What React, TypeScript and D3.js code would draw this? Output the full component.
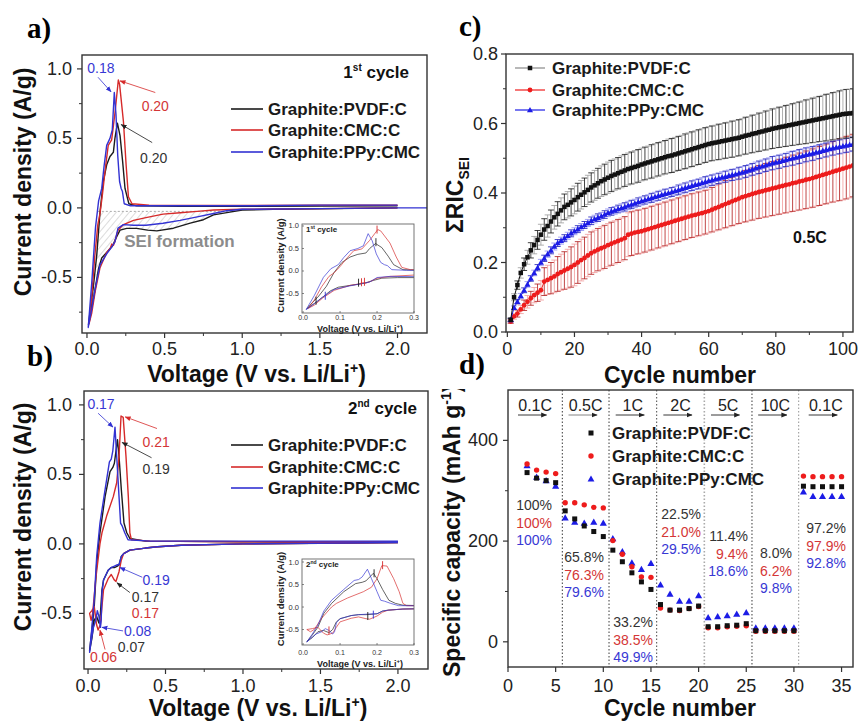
import React from 'react';
import * as d3 from 'd3';

type Pt = [number, number];
type Pt3 = [number, number, number];

const SANS = "'Liberation Sans', Arial, Helvetica, sans-serif";
const SERIF = "'Liberation Serif', 'Times New Roman', serif";

// ---------- Panel a/b : cyclic voltammetry ----------
const CV_NAMES = ['Graphite:PVDF:C', 'Graphite:CMC:C', 'Graphite:PPy:CMC'];
const CV_COLORS = ['#1c1c1c', '#d62a2a', '#3232d2'];

const CV1_PVDF: Pt[] = [
  [2.0, 0.0], [1.6, -0.005], [1.2, -0.01], [1.0, -0.015], [0.92, -0.03], [0.815, -0.05], [0.75, -0.085],
  [0.665, -0.11], [0.557, -0.146], [0.45, -0.165], [0.39, -0.16], [0.32, -0.147], [0.256, -0.147],
  [0.213, -0.16], [0.19, -0.21], [0.17, -0.26], [0.16, -0.28], [0.127, -0.32], [0.095, -0.36],
  [0.074, -0.44], [0.053, -0.58], [0.039, -0.67], [0.02, -0.78], [0.01, -0.84],
  [0.025, -0.7], [0.04, -0.58], [0.063, -0.34], [0.084, -0.03], [0.105, 0.19], [0.127, 0.31],
  [0.148, 0.37], [0.17, 0.4], [0.18, 0.5], [0.196, 0.61], [0.213, 0.52], [0.23, 0.33], [0.245, 0.14],
  [0.27, 0.03], [0.32, 0.015], [0.6, 0.012], [1.0, 0.012], [1.5, 0.013], [2.0, 0.015],
];
const CV1_CMC: Pt[] = [
  [2.0, 0.0], [1.5, -0.005], [1.0, -0.01], [0.815, -0.015], [0.71, -0.025], [0.6, -0.035], [0.49, -0.045],
  [0.38, -0.07], [0.3, -0.09], [0.235, -0.12], [0.2, -0.16], [0.18, -0.24], [0.17, -0.27], [0.16, -0.26],
  [0.15, -0.29], [0.127, -0.32], [0.084, -0.43], [0.053, -0.6], [0.03, -0.76], [0.014, -0.83],
  [0.03, -0.65], [0.05, -0.35], [0.07, -0.12], [0.084, -0.04], [0.1, 0.1], [0.12, 0.3], [0.137, 0.45],
  [0.159, 0.49], [0.18, 0.68], [0.202, 0.92], [0.21, 0.89], [0.235, 0.62], [0.252, 0.31], [0.267, 0.08],
  [0.29, 0.03], [0.4, 0.02], [1.0, 0.018], [1.5, 0.02], [2.0, 0.02],
];
const CV1_PPY: Pt[] = [
  [2.19, 0.0], [2.0, 0.0], [1.5, -0.005], [1.0, -0.01], [0.9, -0.02], [0.815, -0.04], [0.71, -0.065],
  [0.6, -0.09], [0.49, -0.11], [0.38, -0.125], [0.3, -0.125], [0.235, -0.12], [0.2, -0.145], [0.18, -0.245],
  [0.16, -0.28], [0.127, -0.33], [0.084, -0.41], [0.053, -0.58], [0.03, -0.73], [0.008, -0.86],
  [0.03, -0.55], [0.055, -0.14], [0.075, 0.05], [0.095, 0.14], [0.11, 0.3], [0.127, 0.45], [0.148, 0.5],
  [0.163, 0.56], [0.176, 0.83], [0.187, 0.67], [0.198, 0.38], [0.21, 0.19], [0.22, 0.14], [0.228, 0.12],
  [0.24, 0.03], [0.28, 0.015], [1.0, 0.015], [1.5, 0.02], [2.0, 0.02],
];

const CV2_PVDF: Pt[] = [
  [2.0, 0.01], [1.5, 0.005], [1.0, 0.0], [0.6, -0.01], [0.45, -0.02], [0.37, -0.03], [0.27, -0.045],
  [0.23, -0.07], [0.215, -0.09], [0.2, -0.15], [0.19, -0.16], [0.17, -0.17], [0.15, -0.17], [0.13, -0.19],
  [0.1, -0.26], [0.09, -0.33], [0.08, -0.5], [0.07, -0.57], [0.055, -0.52], [0.04, -0.55], [0.025, -0.68],
  [0.01, -0.77],
  [0.025, -0.62], [0.04, -0.45], [0.056, -0.14], [0.077, 0.08], [0.11, 0.34], [0.142, 0.52], [0.16, 0.55],
  [0.17, 0.58], [0.19, 0.75], [0.2, 0.63], [0.215, 0.39], [0.232, 0.15], [0.25, 0.08], [0.27, 0.04],
  [0.37, 0.02], [1.0, 0.015], [2.0, 0.015],
];
const CV2_CMC: Pt[] = [
  [2.0, 0.01], [1.0, 0.0], [0.6, -0.01], [0.45, -0.02], [0.37, -0.03], [0.27, -0.045], [0.23, -0.07],
  [0.215, -0.115], [0.2, -0.2], [0.18, -0.27], [0.17, -0.26], [0.15, -0.22], [0.13, -0.25], [0.1, -0.33],
  [0.09, -0.45], [0.08, -0.58], [0.065, -0.62], [0.055, -0.58], [0.04, -0.45], [0.025, -0.48], [0.01, -0.5],
  [0.02, -0.55], [0.03, -0.5], [0.05, -0.25], [0.077, 0.0], [0.09, 0.08], [0.12, 0.2], [0.163, 0.34],
  [0.185, 0.44], [0.2, 0.63], [0.213, 0.92], [0.227, 0.91], [0.245, 0.63], [0.26, 0.34], [0.27, 0.08],
  [0.28, 0.03], [0.4, 0.02], [1.0, 0.015], [2.0, 0.015],
];
const CV2_PPY: Pt[] = [
  [2.0, 0.01], [1.0, 0.0], [0.6, -0.01], [0.45, -0.02], [0.37, -0.03], [0.27, -0.045], [0.23, -0.07],
  [0.215, -0.09], [0.2, -0.15], [0.19, -0.15], [0.17, -0.16], [0.15, -0.17], [0.13, -0.19], [0.1, -0.26],
  [0.09, -0.35], [0.085, -0.55], [0.08, -0.6], [0.07, -0.52], [0.06, -0.48], [0.05, -0.55], [0.035, -0.6],
  [0.02, -0.7], [0.01, -0.78],
  [0.025, -0.6], [0.04, -0.4], [0.056, -0.09], [0.077, 0.15], [0.11, 0.39], [0.138, 0.59], [0.15, 0.61],
  [0.16, 0.67], [0.174, 0.84], [0.185, 0.63], [0.2, 0.34], [0.21, 0.15], [0.22, 0.13], [0.237, 0.08],
  [0.258, 0.03], [0.4, 0.02], [1.0, 0.02], [2.0, 0.02],
];

const CV_X_TICKS = [0, 0.5, 1.0, 1.5, 2.0];
const CV_X_MINOR = [0.25, 0.75, 1.25, 1.75];
const CV_Y_TICKS = [-0.5, 0.0, 0.5, 1.0];
const CV_Y_MINOR = [-0.75, -0.25, 0.25, 0.75];
const INSET_X_TICKS = [0.0, 0.1, 0.2, 0.3];
const INSET_Y_TICKS = [-0.5, 0.0, 0.5, 1.0];

// peak annotations: [text, colorIdx, textV, textI, arrowFromV, arrowFromI, arrowToV, arrowToI] (arrow optional)
const CV1_NOTES: (string | number)[][] = [
  ['0.18', 2, 0.09, 1.01, 0.071, 0.94, 0.155, 0.835],
  ['0.20', 1, 0.44, 0.73, 0.44, 0.83, 0.213, 0.914],
  ['0.20', 0, 0.43, 0.36, 0.42, 0.47, 0.22, 0.6],
];
const CV2_NOTES: (string | number)[][] = [
  ['0.17', 2, 0.084, 1.01, 0.065, 0.94, 0.161, 0.84],
  ['0.21', 1, 0.44, 0.73, 0.445, 0.83, 0.24, 0.914],
  ['0.19', 0, 0.44, 0.54, 0.41, 0.62, 0.22, 0.73],
  ['0.19', 2, 0.44, -0.26, 0.35, -0.24, 0.206, -0.17],
  ['0.17', 0, 0.37, -0.385, 0.27, -0.35, 0.187, -0.28],
  ['0.17', 1, 0.37, -0.5],
  ['0.08', 2, 0.32, -0.63, 0.226, -0.626, 0.09, -0.6],
  ['0.07', 0, 0.28, -0.745],
  ['0.06', 1, 0.1, -0.815, 0.11, -0.76, 0.077, -0.62],
];
// small vertical error ticks drawn in the insets: [V, I, colorIdx]
const INSET1_MARKS: Pt3[] = [[0.197, 0.64, 0], [0.2, 0.92, 1], [0.15, -0.26, 0], [0.158, -0.25, 1], [0.166, -0.24, 1], [0.035, -0.66, 0], [0.06, -0.55, 2]];
const INSET2_MARKS: Pt3[] = [[0.192, 0.75, 0], [0.215, 0.93, 1], [0.175, -0.2, 0], [0.19, -0.17, 2], [0.07, -0.52, 1]];

// ---------- Panel c : cumulative relative irreversible capacity ----------
const RIC_PVDF = [
  0.035, 0.100, 0.135, 0.170, 0.195, 0.215, 0.235, 0.250, 0.265, 0.280,
  0.295, 0.305, 0.318, 0.330, 0.340, 0.350, 0.360, 0.366, 0.373, 0.380,
  0.388, 0.395, 0.402, 0.409, 0.416, 0.422, 0.428, 0.434, 0.439, 0.444,
  0.449, 0.453, 0.457, 0.461, 0.465, 0.469, 0.472, 0.475, 0.478, 0.482,
  0.485, 0.488, 0.491, 0.494, 0.497, 0.500, 0.503, 0.506, 0.508, 0.511,
  0.514, 0.517, 0.520, 0.523, 0.526, 0.529, 0.532, 0.535, 0.538, 0.541,
  0.543, 0.545, 0.547, 0.549, 0.551, 0.553, 0.555, 0.557, 0.559, 0.562,
  0.565, 0.567, 0.570, 0.572, 0.575, 0.577, 0.580, 0.582, 0.585, 0.587,
  0.589, 0.591, 0.593, 0.595, 0.597, 0.599, 0.601, 0.603, 0.605, 0.607,
  0.609, 0.611, 0.613, 0.615, 0.617, 0.619, 0.621, 0.623, 0.625, 0.627,
  0.628, 0.629, 0.630,
];
const RIC_PVDF_ERR = [
  0.005, 0.010, 0.012, 0.015, 0.018, 0.020, 0.022, 0.025, 0.027, 0.030,
  0.031, 0.032, 0.033, 0.034, 0.035, 0.036, 0.037, 0.038, 0.039, 0.040,
  0.040, 0.041, 0.041, 0.042, 0.042, 0.043, 0.043, 0.044, 0.044, 0.045,
  0.045, 0.045, 0.045, 0.046, 0.046, 0.046, 0.046, 0.047, 0.047, 0.047,
  0.047, 0.047, 0.048, 0.048, 0.048, 0.048, 0.048, 0.049, 0.049, 0.049,
  0.049, 0.049, 0.050, 0.050, 0.050, 0.050, 0.050, 0.050, 0.050, 0.050,
  0.050, 0.050, 0.051, 0.051, 0.051, 0.051, 0.052, 0.052, 0.052, 0.052,
  0.053, 0.053, 0.054, 0.054, 0.055, 0.055, 0.056, 0.056, 0.057, 0.057,
  0.058, 0.058, 0.059, 0.059, 0.060, 0.061, 0.061, 0.062, 0.063, 0.063,
  0.064, 0.065, 0.065, 0.066, 0.067, 0.067, 0.068, 0.068, 0.069, 0.070,
  0.070, 0.070, 0.070,
];
const RIC_CMC = [
  0.030, 0.045, 0.053, 0.065, 0.077, 0.087, 0.097, 0.106, 0.113, 0.120,
  0.145, 0.150, 0.155, 0.160, 0.167, 0.172, 0.177, 0.182, 0.187, 0.193,
  0.200, 0.207, 0.213, 0.220, 0.227, 0.232, 0.237, 0.241, 0.245, 0.250,
  0.254, 0.258, 0.262, 0.266, 0.270, 0.280, 0.283, 0.286, 0.288, 0.290,
  0.293, 0.296, 0.299, 0.302, 0.305, 0.308, 0.311, 0.314, 0.317, 0.320,
  0.323, 0.326, 0.329, 0.332, 0.335, 0.337, 0.340, 0.342, 0.345, 0.348,
  0.352, 0.356, 0.360, 0.364, 0.368, 0.372, 0.376, 0.380, 0.384, 0.388,
  0.391, 0.394, 0.397, 0.400, 0.403, 0.405, 0.408, 0.410, 0.413, 0.415,
  0.418, 0.420, 0.423, 0.425, 0.428, 0.430, 0.433, 0.435, 0.438, 0.440,
  0.443, 0.446, 0.449, 0.452, 0.455, 0.458, 0.461, 0.464, 0.467, 0.470,
  0.473, 0.476, 0.479,
];
const RIC_CMC_ERR = [
  0.005, 0.008, 0.010, 0.012, 0.015, 0.018, 0.020, 0.022, 0.025, 0.028,
  0.040, 0.042, 0.045, 0.047, 0.050, 0.052, 0.054, 0.056, 0.058, 0.060,
  0.060, 0.060, 0.060, 0.061, 0.061, 0.061, 0.061, 0.062, 0.062, 0.062,
  0.062, 0.062, 0.062, 0.062, 0.062, 0.063, 0.063, 0.063, 0.063, 0.063,
  0.063, 0.063, 0.063, 0.063, 0.063, 0.063, 0.063, 0.063, 0.063, 0.063,
  0.063, 0.063, 0.063, 0.063, 0.063, 0.063, 0.063, 0.063, 0.063, 0.063,
  0.064, 0.065, 0.066, 0.067, 0.068, 0.069, 0.070, 0.071, 0.072, 0.073,
  0.074, 0.074, 0.075, 0.075, 0.076, 0.076, 0.077, 0.077, 0.078, 0.078,
  0.079, 0.079, 0.080, 0.080, 0.081, 0.081, 0.082, 0.082, 0.083, 0.083,
  0.084, 0.084, 0.085, 0.085, 0.086, 0.086, 0.087, 0.088, 0.089, 0.090,
  0.090, 0.090, 0.090,
];
const RIC_PPY = [
  0.035, 0.070, 0.087, 0.104, 0.120, 0.137, 0.154, 0.170, 0.185, 0.200,
  0.212, 0.224, 0.235, 0.246, 0.256, 0.263, 0.270, 0.277, 0.284, 0.290,
  0.296, 0.302, 0.308, 0.314, 0.320, 0.325, 0.329, 0.333, 0.338, 0.343,
  0.347, 0.350, 0.354, 0.357, 0.360, 0.364, 0.367, 0.370, 0.374, 0.377,
  0.380, 0.383, 0.386, 0.389, 0.392, 0.395, 0.398, 0.400, 0.403, 0.406,
  0.409, 0.412, 0.415, 0.418, 0.421, 0.424, 0.426, 0.429, 0.432, 0.435,
  0.437, 0.440, 0.442, 0.445, 0.447, 0.450, 0.452, 0.454, 0.457, 0.459,
  0.462, 0.465, 0.468, 0.471, 0.474, 0.477, 0.480, 0.483, 0.486, 0.488,
  0.490, 0.493, 0.495, 0.498, 0.500, 0.502, 0.505, 0.507, 0.510, 0.512,
  0.514, 0.517, 0.519, 0.522, 0.524, 0.527, 0.529, 0.531, 0.533, 0.535,
  0.537, 0.539, 0.541,
];
const RIC_PPY_ERR = [
  0.004, 0.005, 0.006, 0.007, 0.007, 0.008, 0.008, 0.008, 0.009, 0.009,
  0.009, 0.009, 0.010, 0.010, 0.010, 0.010, 0.010, 0.010, 0.010, 0.010,
  0.010, 0.010, 0.010, 0.010, 0.011, 0.011, 0.011, 0.011, 0.011, 0.011,
  0.011, 0.011, 0.011, 0.012, 0.012, 0.012, 0.012, 0.012, 0.012, 0.012,
  0.012, 0.012, 0.013, 0.013, 0.013, 0.013, 0.013, 0.013, 0.013, 0.013,
  0.014, 0.014, 0.014, 0.014, 0.014, 0.014, 0.014, 0.015, 0.015, 0.015,
  0.015, 0.015, 0.015, 0.016, 0.016, 0.016, 0.016, 0.016, 0.017, 0.017,
  0.017, 0.017, 0.017, 0.018, 0.018, 0.018, 0.018, 0.018, 0.019, 0.019,
  0.019, 0.019, 0.019, 0.020, 0.020, 0.020, 0.020, 0.020, 0.020, 0.020,
  0.020, 0.020, 0.020, 0.020, 0.020, 0.020, 0.020, 0.020, 0.020, 0.020,
  0.020, 0.020, 0.020,
];
const RIC_X_TICKS = [0, 20, 40, 60, 80, 100];
const RIC_X_MINOR = [10, 30, 50, 70, 90];
const RIC_Y_TICKS = [0.0, 0.2, 0.4, 0.6, 0.8];
const RIC_Y_MINOR = [0.1, 0.3, 0.5, 0.7];

// ---------- Panel d : rate capability ----------
const RATE_CYCLES = [2, 3, 4, 5, 6, 7, 8, 9, 10, 11, 12, 13, 14, 15, 16, 17, 18, 19, 20, 21, 22, 23, 24, 25, 26, 27, 28, 29, 30, 31, 32, 33, 34, 35];
const RATE_PVDF = [336, 325, 320, 316, 260, 244, 230, 219, 209, 182, 159, 137, 119, 104, 74, 63, 63, 66, 71, 30, 30, 32, 33, 36, 22, 22, 22, 22, 22, 309, 308, 308, 308, 308];
const RATE_CMC = [353, 341, 337, 334, 276, 276, 272, 267, 266, 201, 174, 149, 129, 128, 67, 63, 62, 66, 70, 28, 28, 30, 31, 32, 21, 21, 21, 21, 21, 329, 328, 328, 328, 328];
const RATE_PPY = [350, 327, 320, 309, 246, 238, 236, 238, 236, 205, 179, 157, 144, 156, 113, 95, 81, 81, 92, 48, 50, 52, 55, 58, 28, 28, 28, 28, 28, 298, 289, 289, 289, 289];
const RATE_LABELS = ['0.1C', '0.5C', '1C', '2C', '5C', '10C', '0.1C'];
const RATE_BOUNDS = [0, 5.7, 10.6, 15.6, 20.6, 25.6, 30.5, 36.2];
const RATE_SEP_COLORS = ['#222', '#222', '#333', '#aaa', '#222', '#888'];
const RETENTION = [
  ['100%', '100%', '100%'],
  ['65.8%', '76.3%', '79.6%'],
  ['33.2%', '38.5%', '49.9%'],
  ['22.5%', '21.0%', '29.5%'],
  ['11.4%', '9.4%', '18.6%'],
  ['8.0%', '6.2%', '9.8%'],
  ['97.2%', '97.9%', '92.8%'],
];
const RETENTION_POS = [ // [right edge x, first text centre y] in pixels
  [552, 505], [604, 557], [653, 622], [701, 514], [748, 536], [792, 553], [846, 528],
];
const RATE_X_TICKS = [0, 5, 10, 15, 20, 25, 30, 35];
const RATE_Y_TICKS = [0, 200, 400];
const RATE_Y_MINOR = [100, 300];

const TXT_COLORS = ['#333333', '#d43636', '#3838d4'];
const MARK_COLORS = ['#111111', '#ee1c1c', '#1c1ce6'];

// ---------- helpers ----------
function fmt1(v: number) { return v.toFixed(1); }

function arrowMarkers() {
  const cols = ['#222', '#d62a2a', '#3232d2'];
  return cols.map((c, i) => (
    <marker key={i} id={`arr${i}`} viewBox="0 0 10 10" refX="9" refY="5" markerWidth="6" markerHeight="6"
      markerUnits="userSpaceOnUse" orient="auto">
      <path d="M0,1 L10,5 L0,9 z" fill={c} />
    </marker>
  ));
}

function Marker({ kind, x, y, color, s = 1 }: { kind: number; x: number; y: number; color: string; s?: number }) {
  if (kind === 0) return <rect x={x - 2.5 * s} y={y - 2.5 * s} width={5 * s} height={5 * s} fill={color} />;
  if (kind === 1) return <circle cx={x} cy={y} r={2.7 * s} fill={color} />;
  const h = 3.4 * s;
  return <path d={`M${x},${y - h} L${x + h},${y + h * 0.75} L${x - h},${y + h * 0.75} Z`} fill={color} />;
}

interface InsetCfg { l: number; r: number; t: number; b: number; yDom: [number, number]; tickBase: number; labelBase: number; marks: Pt3[]; n: string; sup: string; }
interface CVCfg {
  id: string; l: number; r: number; t: number; b: number; xDom: [number, number]; yDom: [number, number];
  series: Pt[][]; notes: (string | number)[][]; xTickBase: number; yTickRight: number; xTitleBase: number;
  yTitleCY: number; legendYs: number[]; cycleX: number; cycleY: number; n: string; sup: string;
  hatch: boolean; inset: InsetCfg;
}

function CVPanel({ c }: { c: CVCfg }) {
  const x = d3.scaleLinear().domain(c.xDom).range([c.l, c.r]);
  const y = d3.scaleLinear().domain(c.yDom).range([c.b, c.t]);
  const line = d3.line<Pt>().x(d => x(d[0])).y(d => y(d[1]));
  const clipId = `clip-${c.id}`;

  let hatchD: string | null = null;
  if (c.hatch) {
    const blk = c.series[0];
    let mi = 0;
    blk.forEach((p, i) => { if (p[0] < blk[mi][0]) mi = i; });
    const base = -0.025;
    const cath = blk.slice(0, mi + 1).filter(p => p[0] <= 0.9 && p[0] >= 0.045);
    const anod = blk.slice(mi).filter(p => p[0] >= 0.045 && p[0] <= 0.084);
    const poly: Pt[] = [[0.084, base], [0.9, base], ...cath, ...anod];
    hatchD = line(poly) + 'Z';
  }

  const ins = c.inset;
  const ix = d3.scaleLinear().domain([-0.003, 0.3]).range([ins.l, ins.r]);
  const iy = d3.scaleLinear().domain(ins.yDom).range([ins.b, ins.t]);
  const iline = d3.line<Pt>().x(d => ix(d[0])).y(d => iy(d[1]));
  const iclip = `iclip-${c.id}`;

  return (
    <g>
      <defs>
        <clipPath id={clipId}><rect x={c.l} y={c.t} width={c.r - c.l} height={c.b - c.t} /></clipPath>
        <clipPath id={iclip}><rect x={ins.l} y={ins.t} width={ins.r - ins.l} height={ins.b - ins.t} /></clipPath>
      </defs>
      <g clipPath={`url(#${clipId})`}>
        {hatchD && <path d={hatchD} fill="url(#hatch)" stroke="none" />}
        {c.hatch && <line x1={x(0.07)} x2={x(0.95)} y1={y(-0.025)} y2={y(-0.025)} stroke="#aaa" strokeWidth={1} strokeDasharray="2,2" />}
        {c.series.map((s, i) => (
          <path key={i} d={line(s) || ''} fill="none" stroke={CV_COLORS[i]} strokeWidth={1.4} strokeLinejoin="round" />
        ))}
      </g>
      <rect x={c.l} y={c.t} width={c.r - c.l} height={c.b - c.t} fill="none" stroke="#333" strokeWidth={1.4} />
      {CV_X_TICKS.map(v => (
        <g key={'xt' + v}>
          <line x1={x(v)} x2={x(v)} y1={c.b} y2={c.b + 5} stroke="#333" strokeWidth={1.2} />
          <text x={x(v)} y={c.xTickBase} fontSize={18} textAnchor="middle" fill="#222">{fmt1(v)}</text>
        </g>
      ))}
      {CV_X_MINOR.map(v => <line key={'xm' + v} x1={x(v)} x2={x(v)} y1={c.b} y2={c.b + 3} stroke="#333" strokeWidth={1} />)}
      {CV_Y_TICKS.map(v => (
        <g key={'yt' + v}>
          <line x1={c.l - 5} x2={c.l} y1={y(v)} y2={y(v)} stroke="#333" strokeWidth={1.2} />
          <text x={c.yTickRight} y={y(v) + 6} fontSize={18} textAnchor="end" fill="#222">{fmt1(v)}</text>
        </g>
      ))}
      {CV_Y_MINOR.map(v => <line key={'ym' + v} x1={c.l - 3} x2={c.l} y1={y(v)} y2={y(v)} stroke="#333" strokeWidth={1} />)}
      <text x={(c.l + c.r) / 2 + 2} y={c.xTitleBase} fontSize={23} fontWeight="bold" textAnchor="middle" fill="#111">
        Voltage (V vs. Li/Li<tspan dy={-9} fontSize={14}>+</tspan><tspan dy={9}>)</tspan>
      </text>
      <text transform={`translate(31,${c.yTitleCY}) rotate(-90)`} fontSize={23} fontWeight="bold" textAnchor="middle" fill="#111">
        Current density (A/g)
      </text>
      {c.hatch && (
        <text x={x(0.24)} y={y(-0.24) + 6} fontSize={17} fontWeight="bold" fill="#8c8c8c">SEI formation</text>
      )}
      {c.notes.map((n, i) => {
        const col = CV_COLORS[n[1] as number];
        return (
          <g key={'n' + i}>
            <text x={x(n[2] as number)} y={y(n[3] as number) + 5} fontSize={14} textAnchor="middle" fill={TXT_COLORS[n[1] as number]}>{n[0]}</text>
            {n.length > 4 && (
              <line x1={x(n[4] as number)} y1={y(n[5] as number)} x2={x(n[6] as number)} y2={y(n[7] as number)}
                stroke={col} strokeWidth={0.8} markerEnd={`url(#arr${n[1]})`} />
            )}
          </g>
        );
      })}
      {CV_NAMES.map((nm, i) => (
        <g key={'lg' + i}>
          <line x1={231} x2={263} y1={c.legendYs[i]} y2={c.legendYs[i]} stroke={CV_COLORS[i]} strokeWidth={1.6} />
          <text x={268} y={c.legendYs[i] + 6} fontSize={17} fontWeight="bold" fill="#1a1a1a">{nm}</text>
        </g>
      ))}
      <text x={c.cycleX} y={c.cycleY} fontSize={17} fontWeight="bold" textAnchor="end" fill="#111">
        {c.n}<tspan dy={-7} fontSize={10}>{c.sup}</tspan><tspan dy={7}> cycle</tspan>
      </text>

      {/* inset */}
      <rect x={ins.l} y={ins.t} width={ins.r - ins.l} height={ins.b - ins.t} fill="#fff" />
      <g clipPath={`url(#${iclip})`}>
        {c.series.map((s, i) => (
          <path key={i} d={iline(s) || ''} fill="none" stroke={CV_COLORS[i]} strokeWidth={0.8} opacity={0.85} />
        ))}
        {ins.marks.map((m, i) => (
          <line key={i} x1={ix(m[0])} x2={ix(m[0])} y1={iy(m[1]) - 4} y2={iy(m[1]) + 4} stroke={CV_COLORS[m[2]]} strokeWidth={0.9} />
        ))}
      </g>
      <rect x={ins.l} y={ins.t} width={ins.r - ins.l} height={ins.b - ins.t} fill="none" stroke="#666" strokeWidth={0.9} />
      {INSET_X_TICKS.map(v => (
        <g key={'ixt' + v}>
          <line x1={ix(v)} x2={ix(v)} y1={ins.b} y2={ins.b - 2} stroke="#555" strokeWidth={0.7} />
          <text x={ix(v)} y={ins.tickBase} fontSize={7} textAnchor="middle" fill="#333">{fmt1(v)}</text>
        </g>
      ))}
      {INSET_Y_TICKS.map(v => (
        <g key={'iyt' + v}>
          <line x1={ins.l} x2={ins.l + 2} y1={iy(v)} y2={iy(v)} stroke="#555" strokeWidth={0.7} />
          <text x={ins.l - 3} y={iy(v) + 2.5} fontSize={7.5} textAnchor="end" fill="#333">{fmt1(v)}</text>
        </g>
      ))}
      <text x={(ins.l + ins.r) / 2 + 2} y={ins.labelBase} fontSize={9} fontWeight="bold" textAnchor="middle" fill="#222">
        Voltage (V vs. Li/Li<tspan dy={-4} fontSize={6}>+</tspan><tspan dy={4}>)</tspan>
      </text>
      <text transform={`translate(284,${(ins.t + ins.b) / 2 - 3}) rotate(-90)`} fontSize={9.5} fontWeight="bold" textAnchor="middle" fill="#222">
        Current density (A/g)
      </text>
      <text x={ins.l + 4} y={ins.t + 8} fontSize={8} fontWeight="bold" fill="#222">
        {ins.n}<tspan dy={-3} fontSize={5}>{ins.sup}</tspan><tspan dy={3}> cycle</tspan>
      </text>
    </g>
  );
}

const PANEL_A: CVCfg = {
  id: 'a', l: 82, r: 427, t: 55, b: 333, xDom: [-0.032, 2.19], yDom: [-0.9, 1.1],
  series: [CV1_PVDF, CV1_CMC, CV1_PPY], notes: CV1_NOTES, xTickBase: 355, yTickRight: 72, xTitleBase: 382,
  yTitleCY: 182, legendYs: [109, 130, 152], cycleX: 409, cycleY: 78, n: '1', sup: 'st', hatch: true,
  inset: { l: 302, r: 414, t: 224, b: 313, yDom: [-0.933, 1.044], tickBase: 319.5, labelBase: 331.5, marks: INSET1_MARKS, n: '1', sup: 'st' },
};
const PANEL_B: CVCfg = {
  id: 'b', l: 84, r: 428, t: 391, b: 669, xDom: [-0.026, 2.194], yDom: [-0.9, 1.1],
  series: [CV2_PVDF, CV2_CMC, CV2_PPY], notes: CV2_NOTES, xTickBase: 692, yTickRight: 72, xTitleBase: 716,
  yTitleCY: 517, legendYs: [445, 467, 488], cycleX: 417, cycleY: 414, n: '2', sup: 'nd', hatch: false,
  inset: { l: 302, r: 414, t: 559, b: 645, yDom: [-0.844, 1.067], tickBase: 655, labelBase: 667, marks: INSET2_MARKS, n: '2', sup: 'nd' },
};

function RICPanel() {
  const L = 506, R = 853, T = 54, B = 332;
  const x = d3.scaleLinear().domain([-0.4, 103]).range([L, R]);
  const y = d3.scaleLinear().domain([0, 0.8]).range([B, T]);
  const sets = [
    { v: RIC_PVDF, e: RIC_PVDF_ERR, cols: ['#111', '#9a9a9a'] },
    { v: RIC_CMC, e: RIC_CMC_ERR, cols: ['#b01818', '#f29a9a'] },
    { v: RIC_PPY, e: RIC_PPY_ERR, cols: ['#1818b8', '#8c8cf0'] },
  ];
  const order = [1, 2, 0];
  const line = d3.line<number>().x((_, i) => x(i + 1)).y(d => y(d));
  return (
    <g>
      <defs><clipPath id="clip-c"><rect x={L} y={T} width={R - L} height={B - T} /></clipPath></defs>
      <g clipPath="url(#clip-c)">
        {order.map(si => {
          const s = sets[si];
          return (
            <g key={'e' + si}>
              {s.v.map((v, i) => {
                const cx = x(i + 1), y1 = y(v - s.e[i]), y2 = y(v + s.e[i]);
                const col = s.cols[i % 2];
                return (
                  <g key={i} stroke={col} strokeWidth={0.8}>
                    <line x1={cx} x2={cx} y1={y1} y2={y2} />
                    <line x1={cx - 3} x2={cx + 3} y1={y1} y2={y1} />
                    <line x1={cx - 3} x2={cx + 3} y1={y2} y2={y2} />
                  </g>
                );
              })}
            </g>
          );
        })}
        {order.map(si => {
          const s = sets[si];
          return (
            <g key={'m' + si}>
              <path d={line(s.v) || ''} fill="none" stroke={MARK_COLORS[si]} strokeWidth={1} />
              {s.v.map((v, i) => <Marker key={i} kind={si} x={x(i + 1)} y={y(v)} color={MARK_COLORS[si]} s={0.9} />)}
            </g>
          );
        })}
      </g>
      <rect x={L} y={T} width={R - L} height={B - T} fill="none" stroke="#333" strokeWidth={1.4} />
      {RIC_X_TICKS.map(v => (
        <g key={'x' + v}>
          <line x1={x(v)} x2={x(v)} y1={B} y2={B + 5} stroke="#333" strokeWidth={1.2} />
          <text x={x(v)} y={355} fontSize={18} textAnchor="middle" fill="#222">{v}</text>
        </g>
      ))}
      {RIC_X_MINOR.map(v => <line key={'xm' + v} x1={x(v)} x2={x(v)} y1={B} y2={B + 3} stroke="#333" strokeWidth={1} />)}
      {RIC_Y_TICKS.map(v => (
        <g key={'y' + v}>
          <line x1={L - 5} x2={L} y1={y(v)} y2={y(v)} stroke="#333" strokeWidth={1.2} />
          <text x={498} y={y(v) + 6} fontSize={18} textAnchor="end" fill="#222">{fmt1(v)}</text>
        </g>
      ))}
      {RIC_Y_MINOR.map(v => <line key={'ym' + v} x1={L - 3} x2={L} y1={y(v)} y2={y(v)} stroke="#333" strokeWidth={1} />)}
      <text x={680} y={383} fontSize={23} fontWeight="bold" textAnchor="middle" fill="#111">Cycle number</text>
      <text transform="translate(463,195) rotate(-90)" fontSize={23} fontWeight="bold" textAnchor="middle" fill="#111">
        ΣRIC<tspan dy={6} fontSize={14}>SEI</tspan>
      </text>
      <text x={810} y={243} fontSize={16} fontWeight="bold" textAnchor="middle" fill="#111">0.5C</text>
      {CV_NAMES.map((nm, i) => {
        const ly = [68, 90, 110][i];
        return (
          <g key={'lg' + i}>
            <line x1={515} x2={545} y1={ly} y2={ly} stroke={i === 0 ? '#888' : MARK_COLORS[i]} strokeWidth={1.2} />
            <Marker kind={i} x={530} y={ly} color={MARK_COLORS[i]} s={0.9} />
            <text x={552} y={ly + 6} fontSize={17} fontWeight="bold" fill="#1a1a1a">{nm}</text>
          </g>
        );
      })}
    </g>
  );
}

function RatePanel() {
  const L = 508, R = 853, T = 390, B = 667;
  const x = d3.scaleLinear().domain([0, 36.2]).range([L, R]);
  const y = d3.scaleLinear().domain([-50, 500]).range([B, T]);
  const series = [RATE_PVDF, RATE_CMC, RATE_PPY];
  return (
    <g>
      {RATE_BOUNDS.slice(1, -1).map((b, i) => (
        <line key={'sep' + i} x1={x(b)} x2={x(b)} y1={T} y2={B} stroke={RATE_SEP_COLORS[i]} strokeWidth={i === 3 ? 1.6 : 0.9} strokeDasharray="1.5,2" />
      ))}
      {RATE_LABELS.map((lb, i) => {
        const cx = (RATE_BOUNDS[i] + RATE_BOUNDS[i + 1]) / 2;
        return (
          <g key={'rl' + i}>
            <text x={x(cx)} y={411} fontSize={16} textAnchor="middle" fill="#222">{lb}</text>
            <line x1={x(cx - 1.8)} x2={x(cx + 1.2)} y1={415} y2={415} stroke={i === 1 ? '#777' : '#222'} strokeWidth={0.9} markerEnd="url(#arr0)" />
          </g>
        );
      })}
      {[2, 1, 0].map(si => (
        <g key={'s' + si}>
          {series[si].map((v, i) => <Marker key={i} kind={si} x={x(RATE_CYCLES[i])} y={y(v)} color={MARK_COLORS[si]} s={si === 2 ? 1.05 : 1} />)}
        </g>
      ))}
      {RETENTION.map((grp, gi) => grp.map((t, k) => (
        <text key={gi + '-' + k} x={RETENTION_POS[gi][0]} y={RETENTION_POS[gi][1] + k * 17.5 + 5} fontSize={14} textAnchor="end" fill={TXT_COLORS[k]}>{t}</text>
      )))}
      {CV_NAMES.map((nm, i) => {
        const ly = [433, 456, 479][i];
        return (
          <g key={'lg' + i}>
            <Marker kind={i} x={591} y={ly} color={MARK_COLORS[i]} s={1} />
            <text x={612} y={ly + 6} fontSize={17} fontWeight="bold" fill="#1a1a1a">{nm}</text>
          </g>
        );
      })}
      <rect x={L} y={T} width={R - L} height={B - T} fill="none" stroke="#333" strokeWidth={1.4} />
      {RATE_X_TICKS.map(v => (
        <g key={'x' + v}>
          <line x1={x(v)} x2={x(v)} y1={B} y2={B + 5} stroke="#333" strokeWidth={1.2} />
          <text x={x(v)} y={692} fontSize={18} textAnchor="middle" fill="#222">{v}</text>
        </g>
      ))}
      {RATE_Y_TICKS.map(v => (
        <g key={'y' + v}>
          <line x1={L - 5} x2={L} y1={y(v)} y2={y(v)} stroke="#333" strokeWidth={1.2} />
          <text x={498} y={y(v) + 6} fontSize={18} textAnchor="end" fill="#222">{v}</text>
        </g>
      ))}
      {RATE_Y_MINOR.map(v => <line key={'ym' + v} x1={L - 3} x2={L} y1={y(v)} y2={y(v)} stroke="#333" strokeWidth={1} />)}
      <text x={680} y={716} fontSize={23} fontWeight="bold" textAnchor="middle" fill="#111">Cycle number</text>
      <defs><clipPath id="clip-dlab"><rect x={430} y={389} width={60} height={300} /></clipPath></defs>
      <g clipPath="url(#clip-dlab)">
        <text transform="translate(460,677) rotate(-90)" fontSize={23} fontWeight="bold" textAnchor="start" fill="#111">
          Specific capacity (mAh g<tspan dy={-9} fontSize={14}>-1</tspan><tspan dy={9}>)</tspan>
        </text>
      </g>
    </g>
  );
}

export default function App() {
  return (
    <svg width={858} height={722} viewBox="0 0 858 722" fontFamily={SANS}
      style={{ position: 'absolute', left: 0, top: 0, background: '#fff', display: 'block' }}>
      <defs>
        <pattern id="hatch" width="5" height="5" patternUnits="userSpaceOnUse" patternTransform="rotate(40)">
          <line x1="0" y1="0" x2="0" y2="5" stroke="#a8a8a8" strokeWidth="0.8" />
        </pattern>
        {arrowMarkers()}
      </defs>
      <rect x={0} y={0} width={858} height={722} fill="#fff" />
      <CVPanel c={PANEL_A} />
      <CVPanel c={PANEL_B} />
      <RICPanel />
      <RatePanel />
      <g fontFamily={SERIF} fontWeight="bold" fontSize={29} fill="#000">
        <text x={27} y={38}>a)</text>
        <text x={27} y={366}>b)</text>
        <text x={459} y={36}>c)</text>
        <text x={459} y={374}>d)</text>
      </g>
    </svg>
  );
}
